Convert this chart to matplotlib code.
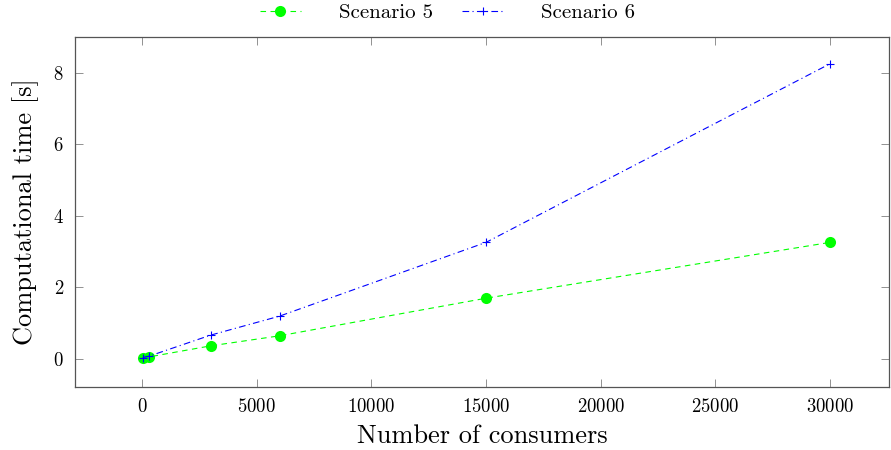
import numpy as np
import matplotlib.pyplot as plt

plt.rcParams['font.family'] = 'serif'
plt.rcParams['font.serif'] = ['cmr10']
plt.rcParams['mathtext.fontset'] = 'cm'
plt.rcParams['axes.formatter.use_mathtext'] = True

# Datos
consumidores = [30, 300, 3000, 6000, 15000, 30000]
escenario5 = [0.03, 0.06, 0.37, 0.65, 1.70, 3.26]
escenario6 = [0.04, 0.08, 0.67, 1.20, 3.26, 8.25]

fig = plt.figure(figsize=(8.91, 4.5), dpi=100)
ax = fig.add_axes([0.0842, 0.14, 0.9138, 0.778])

ax.plot(consumidores, escenario5, color='#00ff00', linestyle=(0, (5, 4)), linewidth=0.8,
        marker='o', markersize=8, markeredgewidth=0, label='Scenario 5')
ax.plot(consumidores, escenario6, color='#0000ff', linestyle=(0, (6, 3, 1, 3)), linewidth=0.8,
        marker='+', markersize=5.5, markeredgewidth=0.8, label='Scenario 6')

ax.set_xlim(-2920, 32580)
ax.set_ylim(-0.78, 9.0)
ax.set_xticks([0, 5000, 10000, 15000, 20000, 25000, 30000])
ax.set_yticks([0, 2, 4, 6, 8])

ax.tick_params(direction='in', length=6, width=0.6, color='#808080', labelsize=13.5,
               top=True, right=True, pad=8)
for s in ax.spines.values():
    s.set_color('#555555')
    s.set_linewidth(0.9)

ax.set_xlabel('Number of consumers', fontsize=19, labelpad=6)
ax.set_ylabel('Computational time [s]', fontsize=19, labelpad=10)

# leyenda centrada en la figura, encima del eje
ax.legend(loc='lower center', bbox_to_anchor=(0.502, 0.918), bbox_transform=fig.transFigure,
          ncol=2, frameon=False, fontsize=15, handlelength=2.0, columnspacing=1.4,
          handletextpad=1.8, borderaxespad=0.3)

fig.savefig('out.png', dpi=100)
